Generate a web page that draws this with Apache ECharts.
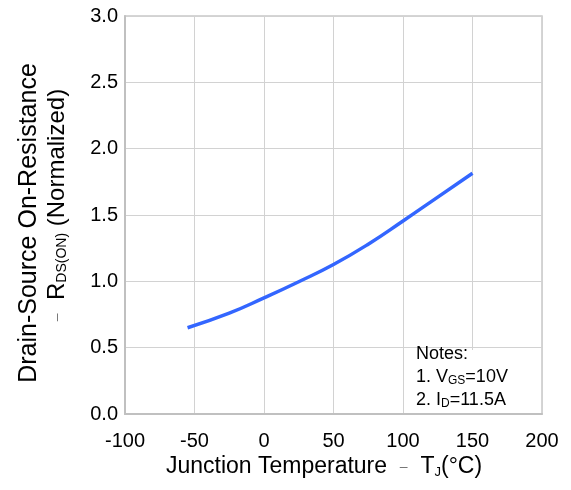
<!DOCTYPE html>
<html>
<head>
<meta charset="utf-8">
<script src="https://cdn.jsdelivr.net/npm/echarts@6/dist/echarts.min.js"></script>
<style>
html,body{margin:0;padding:0;background:#fff;}
#c{width:571px;height:490px;}
</style>
</head>
<body>
<div id="c"></div>
<script>
const temperature = [-55, -25, 0, 25, 50, 75, 100, 125, 150];
const rdsNorm = [0.65, 0.76, 0.875, 0.997, 1.127, 1.28, 1.455, 1.635, 1.815];
const xTicks = {min: -100, max: 200, interval: 50};
const yTicks = {min: 0, max: 3, interval: 0.5};

const FONT = '"Liberation Sans", Arial, sans-serif';
const chart = echarts.init(document.getElementById('c'), null, {renderer: 'canvas'});
chart.setOption({
  animation: false,
  backgroundColor: '#fff',
  grid: {left: 125, right: 29, top: 16, bottom: 76, show: true, borderColor: '#c8c8c8', borderWidth: 1.5},
  xAxis: {
    type: 'value', min: xTicks.min, max: xTicks.max, interval: xTicks.interval,
    axisLine: {show: true, onZero: false, lineStyle: {color: '#c0c0c0', width: 2}},
    axisTick: {show: false},
    splitLine: {show: true, lineStyle: {color: '#d2d2d2', width: 1}},
    axisLabel: {color: '#000', fontSize: 20, fontFamily: FONT, margin: 17}
  },
  yAxis: {
    type: 'value', min: yTicks.min, max: yTicks.max, interval: yTicks.interval,
    axisLine: {show: true, onZero: false, lineStyle: {color: '#c0c0c0', width: 2}},
    axisTick: {show: false},
    splitLine: {show: true, lineStyle: {color: '#d2d2d2', width: 1}},
    axisLabel: {color: '#000', fontSize: 20, fontFamily: FONT, margin: 7,
      formatter: v => v.toFixed(1)}
  },
  series: [{
    type: 'line', smooth: true, symbol: 'none',
    data: temperature.map((t, i) => [t, rdsNorm[i]]),
    lineStyle: {color: '#3366ff', width: 3.5}
  }],
  graphic: [
    {type: 'rect', shape: {x: 412, y: 350, width: 129, height: 63}, style: {fill: '#fff'}, z: 10},
    {type: 'text', x: 416, y: 343, z: 11, style: {
      text: '{t|Notes:}\n{t|1. V}{s|GS}{t|=10V}\n{t|2. I}{s|D}{t|=11.5A}',
      rich: {t: {fontSize: 18, fontFamily: FONT, fill: '#000', lineHeight: 23},
             s: {fontSize: 12, fontFamily: FONT, fill: '#000', lineHeight: 23, padding: [7,0,0,0]}}
    }},
    {type: 'text', x: 324, y: 467, style: {
      text: '{t|Junction Temperature  }{d|–}{t|  T}{s|J}{t|(°C)}',
      align: 'center', verticalAlign: 'middle',
      rich: {t: {fontSize: 23, fontFamily: FONT, fill: '#000'},
             d: {fontSize: 14, fontFamily: FONT, fill: '#777'},
             s: {fontSize: 13, fontFamily: FONT, fill: '#000', padding: [11,0,0,0]}}
    }},
    {type: 'text', x: 29, y: 223, rotation: Math.PI/2, style: {
      text: 'Drain-Source On-Resistance', align: 'center', verticalAlign: 'middle',
      font: '25px ' + FONT, fill: '#000'
    }},
    {type: 'text', x: 57, y: 205, rotation: Math.PI/2, style: {
      text: '{d|–}{t|  R}{s|DS(ON)}{t| (Normalized)}',
      align: 'center', verticalAlign: 'middle',
      rich: {t: {fontSize: 24, fontFamily: FONT, fill: '#000'},
             d: {fontSize: 14, fontFamily: FONT, fill: '#777'},
             s: {fontSize: 14, fontFamily: FONT, fill: '#000', padding: [11,0,0,0]}}
    }}
  ]
});
</script>
</body>
</html>
